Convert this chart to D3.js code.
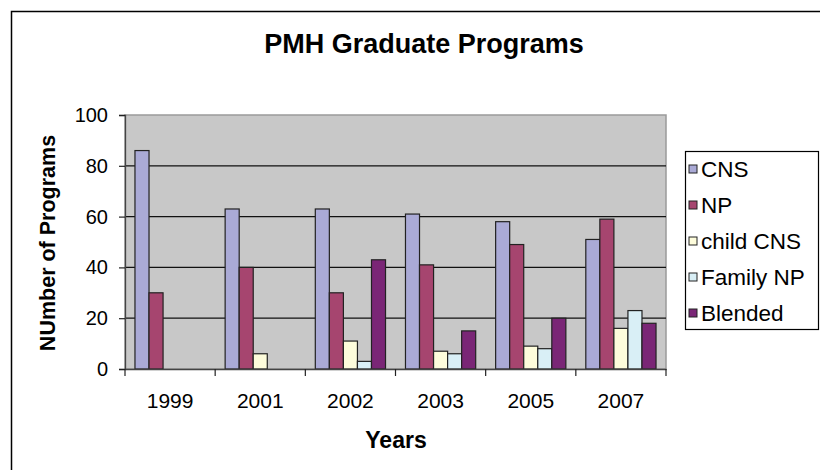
<html>
<head>
<meta charset="utf-8">
<script src="https://d3js.org/d3.v7.min.js"></script>
<style>
  body { margin: 0; padding: 0; background: white; }
  text { font-family: "Liberation Sans", Arial, sans-serif; fill: #000; }
</style>
</head>
<body>
<div id="chart"></div>
<script>
// chart data
const years = ["1999", "2001", "2002", "2003", "2005", "2007"];
const seriesNames = ["CNS", "NP", "child CNS", "Family NP", "Blended"];
const cns      = [86, 63, 63, 61, 58, 51];
const np       = [30, 40, 30, 41, 49, 59];
const childCns = [0, 6, 11, 7, 9, 16];
const familyNp = [0, 0, 3, 6, 8, 23];
const blended  = [0, 0, 43, 15, 20, 18];
const yTicks   = [0, 20, 40, 60, 80, 100];

const colors = ["#aaaad6", "#a6456f", "#fdfcdb", "#d9eff6", "#7a2676"];
const allSeries = [cns, np, childCns, familyNp, blended];

const width = 820, height = 470;
const plot = { left: 125, right: 666, top: 115, bottom: 369 };

const svg = d3.select("#chart").append("svg")
    .attr("width", width)
    .attr("height", height);

// outer chart border (runs off the right/bottom edge)
svg.append("rect")
    .attr("x", 11.5).attr("y", 11.5)
    .attr("width", 900).attr("height", 600)
    .attr("fill", "white")
    .attr("stroke", "#000").attr("stroke-width", 1.5);

svg.append("text")
    .attr("x", 424).attr("y", 53)
    .attr("text-anchor", "middle")
    .style("font-size", "27px").style("font-weight", "bold")
    .text("PMH Graduate Programs");

const x0 = d3.scaleBand().domain(years).range([plot.left, plot.right]).padding(0);
const x1 = d3.scaleBand().domain(seriesNames).range([0, x0.bandwidth()])
    .paddingInner(0).paddingOuter(0.71);
const y = d3.scaleLinear().domain([0, 100]).range([plot.bottom, plot.top]);

// plot background
svg.append("rect")
    .attr("x", plot.left).attr("y", plot.top)
    .attr("width", plot.right - plot.left).attr("height", plot.bottom - plot.top)
    .attr("fill", "#c8c8c8")
    .attr("stroke", "#9a9a9a").attr("stroke-width", 1.5);

// gridlines
svg.append("g")
    .selectAll("line")
    .data(yTicks.filter(d => d > 0 && d < 100))
    .join("line")
    .attr("x1", plot.left).attr("x2", plot.right)
    .attr("y1", d => y(d)).attr("y2", d => y(d))
    .attr("stroke", "#111").attr("stroke-width", 1.3);

// bars
const groups = svg.append("g")
    .selectAll("g")
    .data(years)
    .join("g")
    .attr("transform", d => `translate(${x0(d)},0)`);

groups.selectAll("rect")
    .data((yr, i) => seriesNames.map((s, k) => ({ s, k, v: allSeries[k][i] })).filter(d => d.v > 0))
    .join("rect")
    .attr("x", d => x1(d.s))
    .attr("width", x1.bandwidth())
    .attr("y", d => y(d.v))
    .attr("height", d => y(0) - y(d.v))
    .attr("fill", d => colors[d.k])
    .attr("stroke", "#222").attr("stroke-width", 1.2);

// y axis
const yAxis = svg.append("g")
    .attr("transform", `translate(${plot.left},0)`)
    .call(d3.axisLeft(y).tickValues(yTicks).tickSize(6).tickPadding(11));
yAxis.select(".domain").attr("stroke", "#444").attr("stroke-width", 1.3);
yAxis.selectAll(".tick line").attr("stroke", "#222").attr("stroke-width", 1.2);
yAxis.selectAll(".tick text")
    .style("font-size", "20px")
    .style("font-family", '"Liberation Sans", Arial, sans-serif')
    .attr("fill", "#000");

// x axis
const xAxis = svg.append("g")
    .attr("transform", `translate(0,${plot.bottom})`)
    .call(d3.axisBottom(x0).tickSize(0).tickPadding(24));
xAxis.select(".domain").attr("stroke", "#444").attr("stroke-width", 1.3);
xAxis.selectAll(".tick text")
    .style("font-size", "21px")
    .style("font-family", '"Liberation Sans", Arial, sans-serif')
    .attr("fill", "#000");
// category separator ticks
svg.append("g")
    .selectAll("line")
    .data(years.concat(["end"]))
    .join("line")
    .attr("x1", (d, i) => plot.left + i * x0.step())
    .attr("x2", (d, i) => plot.left + i * x0.step())
    .attr("y1", plot.bottom).attr("y2", plot.bottom + 7)
    .attr("stroke", "#222").attr("stroke-width", 1.2);

// axis titles
svg.append("text")
    .attr("x", 396).attr("y", 448)
    .attr("text-anchor", "middle")
    .style("font-size", "23px").style("font-weight", "bold")
    .text("Years");

svg.append("text")
    .attr("transform", "translate(55,243) rotate(-90)")
    .attr("text-anchor", "middle")
    .style("font-size", "21.5px").style("font-weight", "bold")
    .text("NUmber of Programs");

// legend
const legend = svg.append("g");
legend.append("rect")
    .attr("x", 685.5).attr("y", 151.5)
    .attr("width", 133).attr("height", 178)
    .attr("fill", "white")
    .attr("stroke", "#000").attr("stroke-width", 1.2);

const items = legend.selectAll("g.item")
    .data(seriesNames)
    .join("g")
    .attr("class", "item")
    .attr("transform", (d, i) => `translate(689,${169 + i * 36})`);
items.append("rect")
    .attr("x", 0).attr("y", -4)
    .attr("width", 8).attr("height", 8)
    .attr("fill", (d, i) => colors[i])
    .attr("stroke", "#222").attr("stroke-width", 1);
items.append("text")
    .attr("x", 12).attr("y", 7.5)
    .style("font-size", "22.5px")
    .text(d => d);
</script>
</body>
</html>
